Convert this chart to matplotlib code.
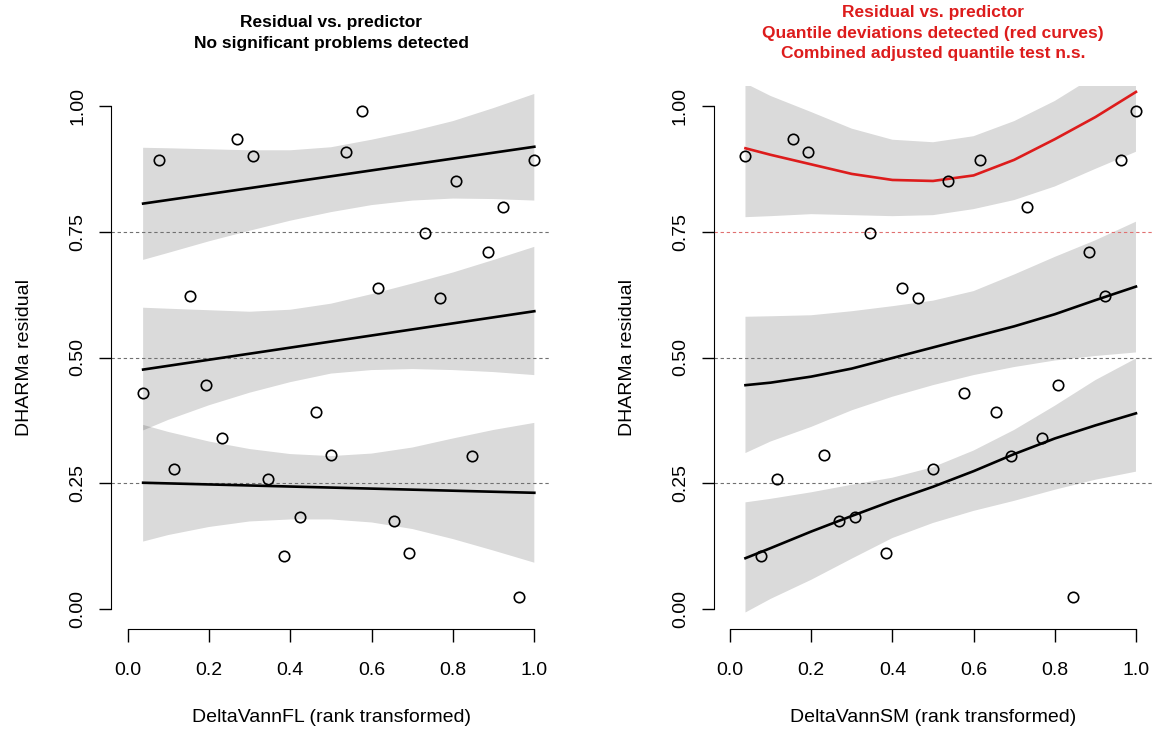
# %% imports

import numpy as np
import matplotlib
matplotlib.use("Agg")
import matplotlib.pyplot as plt
from matplotlib import font_manager


# %% data

rank_x = [0.038, 0.077, 0.115, 0.154, 0.192, 0.231, 0.269, 0.308, 0.346, 0.385, 0.423, 0.462, 0.500,
          0.538, 0.577, 0.615, 0.654, 0.692, 0.731, 0.769, 0.808, 0.846, 0.885, 0.923, 0.962, 1.000]

resid_fl = [0.429, 0.893, 0.279, 0.622, 0.445, 0.340, 0.934, 0.901, 0.259, 0.106, 0.182, 0.392, 0.306,
            0.909, 0.991, 0.638, 0.175, 0.111, 0.747, 0.618, 0.850, 0.304, 0.710, 0.799, 0.024, 0.893]

resid_sm = [0.901, 0.106, 0.259, 0.934, 0.909, 0.306, 0.175, 0.182, 0.747, 0.111, 0.638, 0.618, 0.279,
            0.850, 0.429, 0.893, 0.392, 0.304, 0.799, 0.340, 0.445, 0.024, 0.710, 0.622, 0.893, 0.991]

# grid along the predictor where the fitted curves were read
grid_x = [0.038, 0.1, 0.2, 0.3, 0.4, 0.5, 0.6, 0.7, 0.8, 0.9, 1.0]

# left panel quantile fits (straight lines)
fl_line_x = [0.038, 1.0]
fl_q25 = [0.251, 0.231]
fl_q50 = [0.476, 0.592]
fl_q75 = [0.806, 0.919]

fl_q75_hi = [0.917, 0.916, 0.914, 0.912, 0.912, 0.918, 0.933, 0.950, 0.970, 0.996, 1.024]
fl_q75_lo = [0.694, 0.708, 0.731, 0.752, 0.772, 0.789, 0.803, 0.812, 0.816, 0.815, 0.812]
fl_q50_hi = [0.599, 0.597, 0.594, 0.591, 0.595, 0.607, 0.626, 0.647, 0.669, 0.694, 0.720]
fl_q50_lo = [0.355, 0.376, 0.405, 0.430, 0.451, 0.468, 0.475, 0.477, 0.475, 0.471, 0.465]
fl_q25_hi = [0.366, 0.352, 0.333, 0.318, 0.308, 0.304, 0.309, 0.321, 0.339, 0.356, 0.370]
fl_q25_lo = [0.134, 0.147, 0.163, 0.174, 0.178, 0.178, 0.172, 0.159, 0.139, 0.116, 0.092]

# right panel quantile fits
sm_q75 = [0.916, 0.903, 0.884, 0.865, 0.853, 0.851, 0.862, 0.893, 0.934, 0.978, 1.028]
sm_q75_hi = [1.045, 1.020, 0.988, 0.955, 0.933, 0.928, 0.940, 0.970, 1.010, 1.060, 1.120]
sm_q75_lo = [0.779, 0.781, 0.785, 0.783, 0.781, 0.783, 0.795, 0.813, 0.840, 0.875, 0.909]

sm_q50 = [0.445, 0.450, 0.462, 0.478, 0.499, 0.520, 0.541, 0.562, 0.586, 0.614, 0.641]
sm_q50_hi = [0.581, 0.582, 0.584, 0.592, 0.602, 0.613, 0.632, 0.665, 0.700, 0.733, 0.770]
sm_q50_lo = [0.310, 0.333, 0.362, 0.395, 0.422, 0.445, 0.465, 0.481, 0.494, 0.503, 0.510]

sm_q25 = [0.101, 0.121, 0.154, 0.185, 0.215, 0.243, 0.274, 0.308, 0.339, 0.365, 0.389]
sm_q25_hi = [0.212, 0.219, 0.232, 0.247, 0.261, 0.282, 0.315, 0.356, 0.404, 0.455, 0.498]
sm_q25_lo = [-0.007, 0.020, 0.058, 0.100, 0.141, 0.171, 0.195, 0.215, 0.237, 0.257, 0.273]

y_ticks = [0, 0.25, 0.5, 0.75, 1.0]
y_ticklabels = ["0.00", "0.25", "0.50", "0.75", "1.00"]
x_ticks = [0, 0.2, 0.4, 0.6, 0.8, 1.0]
x_ticklabels = ["0.0", "0.2", "0.4", "0.6", "0.8", "1.0"]


# %% style

plt.rcParams.update({"font.family": ["Liberation Sans", "DejaVu Sans"], "font.size": 14})
names = {f.name for f in font_manager.fontManager.ttflist}
title_font = "Liberation Sans Narrow" if "Liberation Sans Narrow" in names else "Liberation Sans"
title_size = 14 if title_font == "Liberation Sans Narrow" else 12.5

red = "#DD1C1C"
band = dict(color="black", alpha=0.145, lw=0)
gx = np.array(grid_x)


def band_fill(ax, hi, lo):
    ax.fill(np.concatenate([gx, gx[::-1]]), np.concatenate([hi, lo[::-1]]), **band)


def setup(ax, xlabel):
    ax.set_xlim(-0.04, 1.04)
    ax.set_ylim(-0.04, 1.04)
    ax.spines["top"].set_visible(False)
    ax.spines["right"].set_visible(False)
    ax.spines["left"].set_bounds(0, 1)
    ax.spines["bottom"].set_bounds(0, 1)
    ax.set_xticks(x_ticks)
    ax.set_xticklabels(x_ticklabels)
    ax.set_yticks(y_ticks)
    ax.set_yticklabels(y_ticklabels, rotation=90, va="center")
    ax.tick_params(axis="both", length=9, width=1, labelsize=14)
    ax.tick_params(axis="x", pad=15)
    ax.tick_params(axis="y", pad=9)
    ax.set_xlabel(xlabel, fontsize=14, labelpad=21)
    ax.set_ylabel("DHARMa residual", fontsize=14, labelpad=26)


fig = plt.figure(figsize=(11.57, 7.38), dpi=100)
ax1 = fig.add_axes([111.4 / 1157, 1 - 629.1 / 738, 439.2 / 1157, 543.2 / 738])
ax2 = fig.add_axes([713.8 / 1157, 1 - 629.1 / 738, 438.4 / 1157, 543.2 / 738])


# %% left panel

band_fill(ax1, np.array(fl_q75_hi), np.array(fl_q75_lo))
band_fill(ax1, np.array(fl_q50_hi), np.array(fl_q50_lo))
band_fill(ax1, np.array(fl_q25_hi), np.array(fl_q25_lo))

for h in [0.25, 0.5, 0.75]:
    ax1.axhline(h, color="#707070", lw=0.8, ls=(0, (3, 2.5)))

ax1.plot(fl_line_x, fl_q25, color="black", lw=1.9)
ax1.plot(fl_line_x, fl_q50, color="black", lw=1.9)
ax1.plot(fl_line_x, fl_q75, color="black", lw=1.9)
ax1.plot(rank_x, resid_fl, "o", mfc="none", mec="black", ms=7.5, mew=1.2)

setup(ax1, "DeltaVannFL (rank transformed)")


# %% right panel

band_fill(ax2, np.array(sm_q75_hi), np.array(sm_q75_lo))
band_fill(ax2, np.array(sm_q50_hi), np.array(sm_q50_lo))
band_fill(ax2, np.array(sm_q25_hi), np.array(sm_q25_lo))

ax2.axhline(0.25, color="#707070", lw=0.8, ls=(0, (3, 2.5)))
ax2.axhline(0.5, color="#707070", lw=0.8, ls=(0, (3, 2.5)))
ax2.axhline(0.75, color="#E07070", lw=0.8, ls=(0, (3, 2.5)))

ax2.plot(grid_x, sm_q25, color="black", lw=1.9)
ax2.plot(grid_x, sm_q50, color="black", lw=1.9)
ax2.plot(grid_x, sm_q75, color=red, lw=1.9)
ax2.plot(rank_x, resid_sm, "o", mfc="none", mec="black", ms=7.5, mew=1.2)

setup(ax2, "DeltaVannSM (rank transformed)")


# %% titles

tkw = dict(ha="center", va="center", fontweight="bold", fontsize=title_size, family=[title_font, "DejaVu Sans"])
fig.text(331 / 1157, 1 - 22.7 / 738, "Residual vs. predictor", **tkw)
fig.text(331 / 1157, 1 - 43.3 / 738, "No significant problems detected", **tkw)
fig.text(933 / 1157, 1 - 12.7 / 738, "Residual vs. predictor", color=red, **tkw)
fig.text(933 / 1157, 1 - 33.3 / 738, "Quantile deviations detected (red curves)", color=red, **tkw)
fig.text(933 / 1157, 1 - 53.3 / 738, "Combined adjusted quantile test n.s.", color=red, **tkw)

fig.savefig("out.png", dpi=100)
